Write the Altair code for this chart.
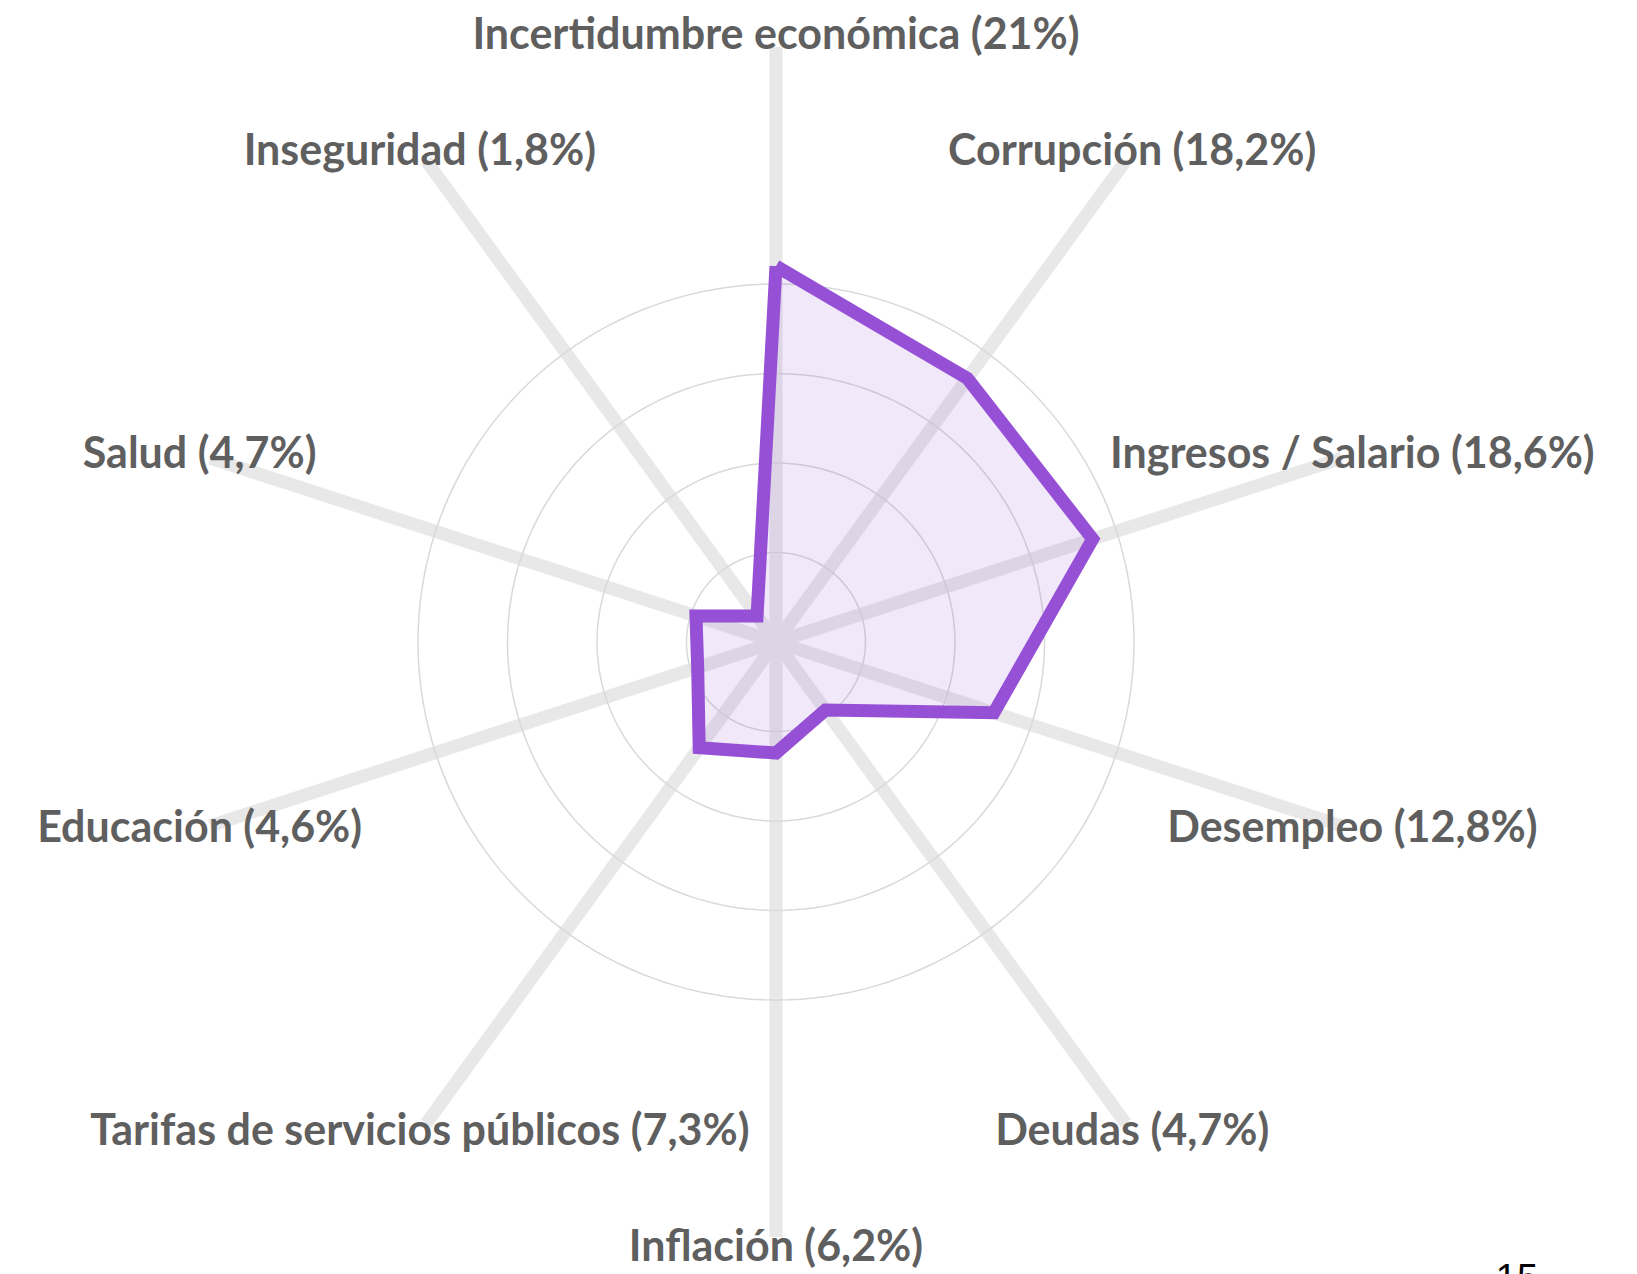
import math
import altair as alt
import pandas as pd

# ---- data ----
categories = [
    "Incertidumbre económica", "Corrupción", "Ingresos / Salario", "Desempleo",
    "Deudas", "Inflación", "Tarifas de servicios públicos", "Educación",
    "Salud", "Inseguridad",
]
values = [21.0, 18.2, 18.6, 12.8, 4.7, 6.2, 7.3, 4.6, 4.7, 1.8]
value_text = ["21%", "18,2%", "18,6%", "12,8%", "4,7%", "6,2%", "7,3%", "4,6%", "4,7%", "1,8%"]
grid_levels = [5, 10, 15, 20]
page_number = ["15"]

# ---- layout constants ----
W, H = 1621, 1266          # svg size (autosize none, padding 0)
CX, CY = 768, 634          # centre of the radar in svg px
K = 17.9                   # px per percentage point
SPOKE_R = 595 / K
LABEL_R = 606 / K

n = len(categories)
rows = []
for i, (c, v, t) in enumerate(zip(categories, values, value_text)):
    a = 2 * math.pi * i / n
    rows.append(dict(
        idx=i, cat=c, value=v, label=f"{c} ({t})", angle=a, zero=0.0,
        vx=v * math.sin(a), vy=v * math.cos(a),
        sx=SPOKE_R * math.sin(a), sy=SPOKE_R * math.cos(a),
        lx=LABEL_R * math.sin(a), ly=LABEL_R * math.cos(a),
    ))
df_axes = pd.DataFrame(rows)
df_poly = pd.concat([df_axes, df_axes.iloc[[0]].assign(idx=n)], ignore_index=True)

circ = []
for lvl in grid_levels:
    for k in range(0, 181):
        t = 2 * math.pi * k / 180
        circ.append(dict(level=lvl, k=k, x=lvl * math.sin(t), y=lvl * math.cos(t)))
df_circ = pd.DataFrame(circ)

xs = alt.Scale(domain=[-CX / K, (W - CX) / K], nice=False, zero=False)
ys = alt.Scale(domain=[-(H - CY) / K, CY / K], nice=False, zero=False)

spokes = alt.Chart(df_axes).mark_rule(color="#e8e8e8", strokeWidth=13, strokeCap="butt").encode(
    x=alt.X("zero:Q", scale=xs, axis=None),
    y=alt.Y("zero:Q", scale=ys, axis=None),
    x2="sx:Q", y2="sy:Q",
)

circles = alt.Chart(df_circ).mark_line(color="#d9d9d9", strokeWidth=1.5).encode(
    x=alt.X("x:Q", scale=xs, axis=None),
    y=alt.Y("y:Q", scale=ys, axis=None),
    detail="level:N",
    order="k:Q",
)

poly = alt.Chart(df_poly).mark_line(
    fill="#9650d6", fillOpacity=0.13, stroke="#9650d6", strokeWidth=13,
    strokeJoin="miter", strokeMiterLimit=10,
).encode(
    x=alt.X("vx:Q", scale=xs, axis=None),
    y=alt.Y("vy:Q", scale=ys, axis=None),
    order="idx:Q",
)

labels = alt.Chart(df_axes).mark_text(
    font="Lato", fontWeight="bold", fontSize=43, color="#5f5f5f",
    align="center", baseline="middle",
).encode(
    x=alt.X("lx:Q", scale=xs, axis=None),
    y=alt.Y("ly:Q", scale=ys, axis=None),
    text="label:N",
)

# page number of the source document, cut off at the bottom edge
pnum = alt.Chart(pd.DataFrame({"t": page_number})).mark_text(
    font="Liberation Sans", fontSize=38, color="#000000", align="center", baseline="top",
).encode(x=alt.value(1509), y=alt.value(1253), text="t:N")

chart = alt.layer(spokes, circles, poly, labels, pnum).properties(
    width=W, height=H, autosize=alt.AutoSizeParams(type="none"), padding=0,
).configure_view(stroke=None)

chart.save("out.html", embed_options={"renderer": "svg", "actions": False})
